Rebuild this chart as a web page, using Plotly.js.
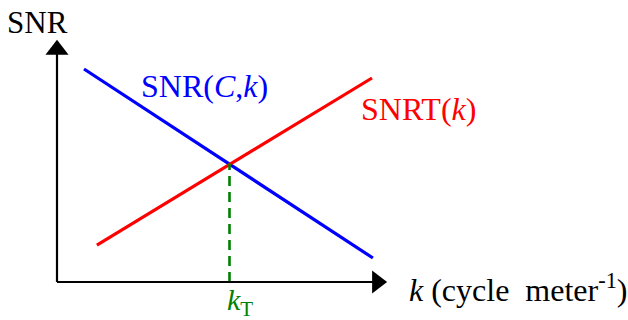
<!DOCTYPE html>
<html>
<head>
<meta charset="utf-8">
<script src="https://cdn.plot.ly/plotly-3.0.1.min.js"></script>
<style>html,body{margin:0;padding:0;background:#fff;}#chart{width:628px;height:320px;}</style>
</head>
<body>
<div id="chart"></div>
<script>
// Conceptual diagram: SNR vs spatial frequency k (arbitrary units)
const snrCK_k = [0.9, 10.53];
const snrCK_v = [7.1, 0.8];
const snrT_k = [1.33, 10.5];
const snrT_v = [1.23, 6.8];
const kT = 5.75;
const snrAtKT = 3.95;
const axisEndX = 11.0;
const axisEndY = 8.07;

const FONT = "Liberation Serif, Times New Roman, serif";

const traces = [
  {x: snrCK_k, y: snrCK_v, mode: 'lines', line: {color: '#0000ff', width: 3.2}, hoverinfo: 'skip'},
  {x: snrT_k, y: snrT_v, mode: 'lines', line: {color: '#ff0000', width: 3.2}, hoverinfo: 'skip'},
  {x: [kT, kT], y: [0, snrAtKT], mode: 'lines', line: {color: '#008000', width: 2.6, dash: '10px,6px'}, hoverinfo: 'skip'},
  {x: [0, axisEndX - 0.3], y: [0, 0], mode: 'lines', line: {color: '#000', width: 2.2}, hoverinfo: 'skip'},
  {x: [0, 0], y: [0, axisEndY - 0.3], mode: 'lines', line: {color: '#000', width: 2.2}, hoverinfo: 'skip'},
  {x: [axisEndX - 0.33], y: [0], mode: 'markers', marker: {symbol: 'triangle-right', size: 20, color: '#000', line: {width: 0}}, hoverinfo: 'skip'},
  {x: [0], y: [axisEndY - 0.33], mode: 'markers', marker: {symbol: 'triangle-up', size: 20, color: '#000', line: {width: 0}}, hoverinfo: 'skip'}
];

const ann = (text, x, y, color, size) => ({text, x, y, xref: 'x', yref: 'y', showarrow: false,
  xanchor: 'left', yanchor: 'middle', font: {family: FONT, size: size || 32, color}});

const layout = {
  width: 628, height: 320,
  margin: {l: 0, r: 0, t: 0, b: 0},
  paper_bgcolor: '#fff', plot_bgcolor: '#fff',
  showlegend: false,
  xaxis: {range: [-1.9, 19.0333], visible: false, fixedrange: true},
  yaxis: {range: [-1.2667, 9.4], visible: false, fixedrange: true},
  annotations: [
    ann('SNR', -1.75, 8.65, '#000', 31),
    ann('SNR(<i>C</i>,<i>k</i>)', 2.72, 6.55, '#0000ff'),
    ann('SNRT(<i>k</i>)', 10.07, 5.78, '#ff0000'),
    ann('<i>k</i> (cycle&nbsp; meter<sup>-1</sup>)', 11.65, -0.2, '#000'),
    ann('<i>k</i><sub>T</sub>', kT - 0.15, -0.65, '#008000', 30)
  ]
};

Plotly.newPlot('chart', traces, layout, {staticPlot: true, displayModeBar: false});
</script>
</body>
</html>
